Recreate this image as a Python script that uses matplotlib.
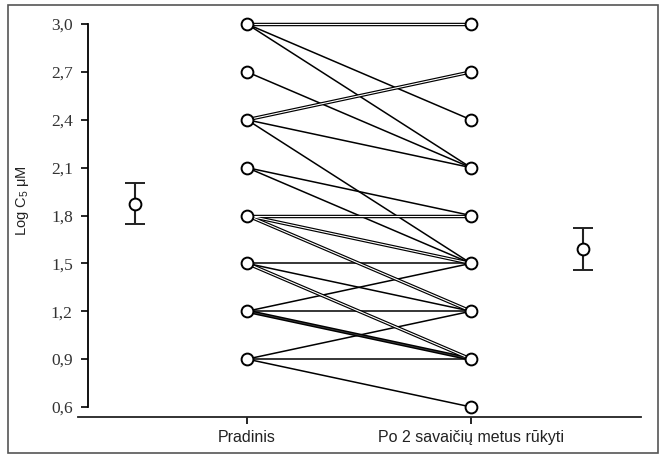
from collections import Counter

import matplotlib
matplotlib.use("Agg")
import matplotlib.pyplot as plt
from matplotlib.patches import Rectangle

# Log C5 per subject: baseline and after 2 weeks of smoking
baseline = [3.0, 3.0, 3.0, 3.0, 2.7, 2.4, 2.4, 2.4, 2.4, 2.1, 2.1,
            1.8, 1.8, 1.8, 1.8, 1.8, 1.8, 1.5, 1.5, 1.5, 1.5,
            1.2, 1.2, 1.2, 1.2, 1.2, 0.9, 0.9, 0.9]
followup = [3.0, 3.0, 2.4, 2.1, 2.1, 2.7, 2.7, 2.1, 1.5, 1.8, 1.5,
            1.8, 1.8, 1.5, 1.5, 1.2, 1.2, 1.5, 1.2, 0.9, 0.9,
            1.5, 1.2, 0.9, 0.9, 0.9, 1.2, 0.9, 0.6]

# group means with error bars
group_pos = [0.5, 2.5]
group_mean = [1.875, 1.59]
group_err = [0.13, 0.13]

categories = ["Pradinis", "Po 2 savaičių metus rūkyti"]
yticks = [0.6, 0.9, 1.2, 1.5, 1.8, 2.1, 2.4, 2.7, 3.0]
ytick_labels = ["0,6", "0,9", "1,2", "1,5", "1,8", "2,1", "2,4", "2,7", "3,0"]

sans = ["Liberation Sans Narrow", "Liberation Sans", "DejaVu Sans"]
plt.rcParams["mathtext.fontset"] = "custom"
plt.rcParams["mathtext.rm"] = "Liberation Sans"
plt.rcParams["mathtext.it"] = "Liberation Sans"

fig = plt.figure(figsize=(6.59, 4.55), dpi=100)
ax = fig.add_axes([0.1184, 0.0835, 0.8543, 0.8945])

# frame around the whole figure
fig.patches.append(Rectangle((0.012, 0.005), 0.986, 0.985, transform=fig.transFigure,
                             fill=False, edgecolor="#555555", lw=1.2))

pairs = Counter(zip(baseline, followup))
for (a, b), n in pairs.items():
    if n == 1:
        ax.plot([1, 2], [a, b], color="black", lw=1.1, zorder=1)
    elif n == 2:
        ax.plot([1, 2], [a, b], color="black", lw=2.5, zorder=1, solid_capstyle="butt")
        ax.plot([1, 2], [a, b], color="white", lw=0.8, zorder=1.1, solid_capstyle="butt")
    else:
        ax.plot([1, 2], [a, b], color="black", lw=2.6, zorder=1, solid_capstyle="butt")
        ax.plot([1, 2], [a, b], color="#444444", lw=0.5, zorder=1.1, solid_capstyle="butt")

left_levels = sorted(set(baseline))
right_levels = sorted(set(followup))
ax.plot([1] * len(left_levels), left_levels, "o", ms=8.5, mfc="white",
        mec="black", mew=1.4, zorder=3)
ax.plot([2] * len(right_levels), right_levels, "o", ms=8.5, mfc="white",
        mec="black", mew=1.4, zorder=3)

ax.errorbar(group_pos, group_mean, yerr=group_err, fmt="o", ms=8.5, mfc="white",
            mec="black", mew=1.4, ecolor="#222222", elinewidth=1.5, capsize=7.5,
            capthick=1.5, zorder=3)

ax.set_xlim(0.2455, 2.759)
ax.set_ylim(0.537, 3.088)

ax.spines["top"].set_visible(False)
ax.spines["right"].set_visible(False)
ax.spines["left"].set_position(("data", 0.29))
ax.spines["left"].set_bounds(0.6, 3.0)
ax.spines["left"].set_linewidth(1.3)
ax.spines["bottom"].set_linewidth(1.3)
ax.spines["bottom"].set_color("#222222")

ax.set_yticks(yticks)
ax.set_yticklabels(ytick_labels, family=["Liberation Serif", "DejaVu Serif"], fontsize=12.5,
                   color="#333333")
ax.set_xticks([1, 2])
ax.set_xticklabels(categories, family=sans, fontsize=11.5, color="#222222")
ax.tick_params(axis="both", direction="out", length=5, width=1.2, color="black", pad=6)
ax.tick_params(axis="x", pad=4)

fig.text(0.034, 0.56, "Log C$_5$ μM", rotation=90, family=sans, fontsize=10.5,
         ha="center", va="center", color="#222222")

fig.savefig("out.png", dpi=100)
